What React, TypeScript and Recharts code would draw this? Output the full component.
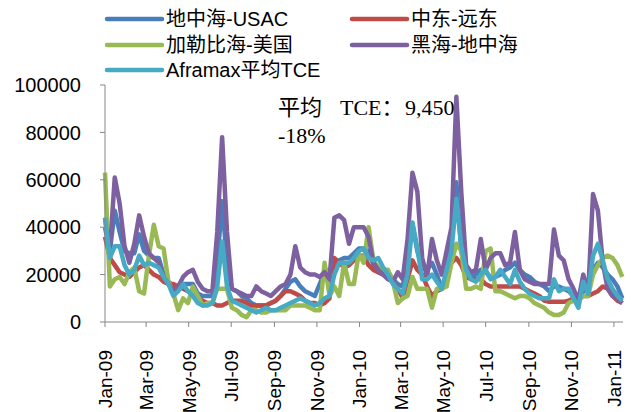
import { Line, LineChart, XAxis, YAxis } from 'recharts'

// weekly Aframax TCE, thousand $/day, Jan-2009 .. mid-Jan-2011
const medUsac = [
  44, 30, 47, 38, 30, 29, 29, 37, 30, 28, 27, 27, 20, 17, 15, 15, 16, 16, 16, 12,
  11, 11, 11, 25, 51, 25, 14, 13, 11, 10, 8, 7, 7, 7, 8, 9, 11, 14, 17, 18,
  15, 13, 12, 11, 16, 21, 22, 24, 26, 27, 27, 29, 31, 31, 30, 24, 21, 20, 21, 18,
  16, 15, 25, 41, 30, 23, 22, 25, 20, 14, 20, 34, 59, 30, 22, 19, 20, 22, 21, 19,
  19, 20, 22, 23, 25, 22, 20, 19, 17, 16, 15, 13, 15, 15, 14, 13, 11, 10, 13, 14,
  22, 25, 23, 20, 18, 15, 10,
]
const meFarEast = [
  36, 27, 24, 21, 20, 19, 21, 23, 24, 22, 20, 19, 17, 16, 16, 15, 14, 13, 11, 10,
  9, 8, 8, 7, 7, 8, 9, 9, 9, 8, 7, 7, 7, 7, 8, 9, 11, 13, 13, 12,
  11, 9, 8, 8, 7, 8, 10, 27, 25, 23, 24, 26, 28, 28, 24, 22, 21, 20, 19, 17,
  14, 10, 18, 26, 22, 20, 15, 11, 13, 14, 20, 25, 27, 24, 19, 18, 18, 18, 16, 15,
  15, 15, 15, 15, 15, 15, 14, 13, 12, 11, 9, 8.5, 8.5, 8.5, 8.5, 9, 10, 10, 11, 11,
  12, 13, 15, 14, 11, 9, 8,
]
const caribUs = [
  63, 15, 18, 19, 16, 21, 23, 13, 12, 28, 41, 32, 31, 17, 12, 5, 10, 8, 15, 11,
  7, 8, 8, 14, 14, 14, 6, 5, 3, 2, 5, 5, 4, 4, 5, 5, 5, 5, 7, 7,
  7, 7, 6, 5, 5, 25, 11, 15, 11, 25, 16, 16, 29, 25, 40, 26, 23, 22, 22, 17,
  8, 10, 11, 19, 14, 14, 14, 6, 14, 14, 15, 25, 33, 30, 14, 14, 15, 14, 30, 31,
  13, 13, 12, 11, 10, 11, 11, 10, 8, 7, 6, 4, 3, 3, 4, 8, 9, 9, 11, 11,
  20, 24, 27, 28, 27, 24, 19,
]
const blackSeaMed = [
  40, 30, 61, 50, 32, 25, 33, 45, 36, 29, 27, 25, 19, 16, 13, 15, 19, 21, 22, 17,
  14, 13, 13, 38, 78, 38, 14, 13, 12, 11, 11, 15, 13, 12, 11, 13, 15, 16, 20, 32,
  23, 21, 20, 20, 19, 21, 18, 44, 45, 43, 33, 40, 40, 40, 36, 25, 22, 20, 18, 17,
  21, 18, 35, 63, 55, 27, 19, 35, 26, 20, 30, 40, 95, 55, 24, 21, 22, 35, 22, 27,
  29, 29, 24, 25, 38, 22, 18, 17, 16, 16, 16, 16, 39, 28, 26, 18, 14, 9, 20, 12,
  54, 47, 25, 14, 11, 10, 8,
]
const aframaxAvg = [
  44, 27, 32, 32, 24, 20, 22, 28, 24, 25, 24, 23, 19, 16, 11, 13, 16, 13, 11, 8,
  7, 7, 8, 15, 34, 15, 9, 8, 7, 6, 5, 4, 5, 6, 5, 5, 6, 7, 8, 9,
  10, 9, 8, 7, 8, 10, 11, 20, 25, 25, 25, 27, 30, 31, 27, 26, 27, 23, 20, 16,
  14, 12, 20, 42, 31, 18, 18, 20, 17, 14, 22, 30, 52, 32, 22, 18, 17, 20, 22, 18,
  19, 22, 19, 16, 22, 17, 14, 12, 11, 10, 10, 10, 18, 13, 14, 14, 10, 6, 17, 12,
  28, 33, 26, 18, 14, 11, 9,
]

// days since 1 Jan 2009
const monthTicks = [0, 59, 120, 181, 243, 304, 365, 424, 485, 546, 608, 669, 730]
const monthLabels = [
  'Jan-09', 'Mar-09', 'May-09', 'Jul-09', 'Sep-09', 'Nov-09',
  'Jan-10', 'Mar-10', 'May-10', 'Jul-10', 'Sep-10', 'Nov-10', 'Jan-11',
]
const valueTicks = [0, 20000, 40000, 60000, 80000, 100000]

const series = [
  { key: 'medUsac', name: '地中海-USAC', color: '#4A7EBB', values: medUsac },
  { key: 'meFarEast', name: '中东-远东', color: '#BE4B48', values: meFarEast },
  { key: 'caribUs', name: '加勒比海-美国', color: '#98B954', values: caribUs },
  { key: 'blackSeaMed', name: '黑海-地中海', color: '#7D60A0', values: blackSeaMed },
  { key: 'aframaxAvg', name: 'Aframax平均TCE', color: '#46AAC5', values: aframaxAvg },
]

const data = medUsac.map((_, i) => {
  const row: Record<string, number> = { d: i * 7 }
  series.forEach(s => { row[s.key] = s.values[i] * 1000 })
  return row
})

const AXIS = '#868686'
const SANS = 'Liberation Sans, Arial, "Noto Sans CJK SC", sans-serif'
const SERIF = 'Liberation Serif, "Times New Roman", "Noto Sans CJK SC", serif'

const MonthTick = ({ x, y, payload }: any) => {
  const idx = monthTicks.indexOf(payload.value)
  return (
    <text
      transform={`translate(${x + 7},${y + 21}) rotate(-90)`}
      textAnchor="end"
      fontSize={19}
      fontFamily={SANS}
      fill="#000"
    >
      {monthLabels[idx]}
    </text>
  )
}

// legend slots: column x, row y
const legendCols = [107, 352]
const legendRows = [19, 45, 70]

const Overlay = () => (
  <svg width={635} height={412} style={{ position: 'absolute', left: 0, top: 0, pointerEvents: 'none' }}>
    {series.map((s, i) => {
      const lx = legendCols[i % 2]
      const ly = legendRows[Math.floor(i / 2)]
      return (
        <g key={s.key}>
          <line x1={lx} x2={lx + 55} y1={ly} y2={ly} stroke={s.color} strokeWidth={4.5} strokeLinecap="round" />
          <text x={lx + 59} y={ly + 7} fontSize={20} fontFamily={SANS} fill="#000">{s.name}</text>
        </g>
      )
    })}
    <text fontSize={22} fontFamily={SERIF} fill="#000">
      <tspan x={278} y={115}>平均</tspan>
      <tspan x={340} y={115}>TCE：</tspan>
      <tspan x={405} y={115}>9,450</tspan>
      <tspan x={278} y={143}>-18%</tspan>
    </text>
  </svg>
)

export default function App() {
  return (
    <div style={{ position: 'absolute', left: 0, top: 0, width: 635, height: 412, background: '#fff' }}>
      <LineChart width={635} height={412} data={data} margin={{ top: 85, right: 12, bottom: 0, left: 0 }}>
        <XAxis
          type="number"
          dataKey="d"
          domain={[0, 743]}
          ticks={monthTicks}
          interval={0}
          height={90}
          stroke={AXIS}
          tickSize={5}
          tick={<MonthTick />}
        />
        <YAxis
          domain={[0, 100000]}
          ticks={valueTicks}
          interval={0}
          width={105}
          stroke={AXIS}
          tickSize={5}
          tickMargin={19}
          tick={{ fill: '#000', fontSize: 20, fontFamily: SANS }}
        />
        {series.map(s => (
          <Line
            key={s.key}
            type="linear"
            dataKey={s.key}
            name={s.name}
            stroke={s.color}
            strokeWidth={4.5}
            strokeLinejoin="round"
            dot={false}
            activeDot={false}
            isAnimationActive={false}
          />
        ))}
      </LineChart>
      <Overlay />
    </div>
  )
}
